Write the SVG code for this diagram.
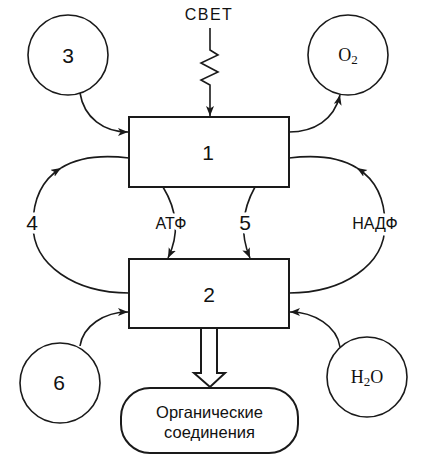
<svg xmlns="http://www.w3.org/2000/svg" width="437" height="474" viewBox="0 0 437 474">
<style>
.box{fill:#fff;stroke:#1a1a1a;stroke-width:2}
.circ{fill:#fff;stroke:#1a1a1a;stroke-width:1.6}
.ln{fill:none;stroke:#1a1a1a;stroke-width:1.6}
.sans{font-family:"Liberation Sans",Arial,sans-serif;fill:#111}
.serif{font-family:"Liberation Serif","Times New Roman",serif;fill:#111}
.num{font-size:21px;text-anchor:middle}
.lbl{paint-order:stroke;stroke:#fff;stroke-width:7;stroke-linejoin:round}
</style>
<defs>
<marker id="ah" markerUnits="userSpaceOnUse" markerWidth="12" markerHeight="10" refX="10" refY="4" orient="auto">
<path d="M0,0 L10,4 L0,8 L2.5,4 Z" fill="#1a1a1a"/>
</marker>
</defs>
<g id="connectors">
<path class="ln" d="M210,28 V50 L218,55 L201,63 L218,72 L201,80 L210,85 V116" marker-end="url(#ah)"/>
<path class="ln" d="M80,93 C84,118 104,132 128,132" marker-end="url(#ah)"/>
<path class="ln" d="M289,132 C314,132 334,120 340,95" marker-end="url(#ah)"/>
<path class="ln" d="M129,293 C75,293 33,265 33,225 C33,195 45,178 61,168" marker-end="url(#ah)"/>
<path class="ln" d="M61,168 C80,156 105,155 129,158"/>
<path class="ln" d="M289,293 C343,293 385,265 385,225 C385,195 373,178 357,168" marker-end="url(#ah)"/>
<path class="ln" d="M357,168 C338,156 313,155 289,158"/>
<path class="ln" d="M163,187 Q185,223 168,258" marker-end="url(#ah)"/>
<path class="ln" d="M255,187 Q235,223 250,258" marker-end="url(#ah)"/>
<path class="ln" d="M80,346 C83,326 104,312 128,312" marker-end="url(#ah)"/>
<path class="ln" d="M340,347 C337,326 314,312 290,312" marker-end="url(#ah)"/>
<polygon points="201,328 201,373 194,373 210,387 225,373 217,373 217,328" fill="#fff" stroke="#1a1a1a" stroke-width="2" stroke-linejoin="miter"/>
<text class="sans lbl num" x="32" y="230">4</text>
<text class="sans lbl" x="171" y="229" font-size="16" text-anchor="middle">АТФ</text>
<text class="sans lbl num" x="245" y="230">5</text>
<text class="sans lbl" x="375" y="229" font-size="16" text-anchor="middle">НАДФ</text>
</g>
<g id="light"><text class="sans" x="209" y="20" font-size="16" text-anchor="middle" letter-spacing="1.5">СВЕТ</text></g>
<g id="node1"><rect class="box" x="129" y="117" width="160" height="70"/><text class="sans num" x="208" y="160">1</text></g>
<g id="node2"><rect class="box" x="129" y="259" width="160" height="69"/><text class="sans num" x="209" y="302">2</text></g>
<g id="node3"><circle class="circ" cx="68" cy="55" r="40"/><text class="sans num" x="68" y="63">3</text></g>
<g id="nodeO2"><circle class="circ" cx="348" cy="55" r="40"/><text class="serif" x="348" y="61" font-size="18" text-anchor="middle">O<tspan font-size="13" dy="3">2</tspan></text></g>
<g id="node6"><circle class="circ" cx="60" cy="383" r="40"/><text class="sans num" x="59" y="390">6</text></g>
<g id="nodeH2O"><circle class="circ" cx="367" cy="377" r="40"/><text class="serif" x="367" y="383" font-size="18" text-anchor="middle">H<tspan font-size="13" dy="3">2</tspan><tspan dy="-3">O</tspan></text></g>
<g id="organic"><rect class="box" x="121" y="388" width="177" height="65" rx="29" ry="29"/>
<text class="sans" x="209.5" y="418" font-size="16.5" text-anchor="middle">Органические</text>
<text class="sans" x="209.5" y="438" font-size="16.5" text-anchor="middle">соединения</text></g>
</svg>
